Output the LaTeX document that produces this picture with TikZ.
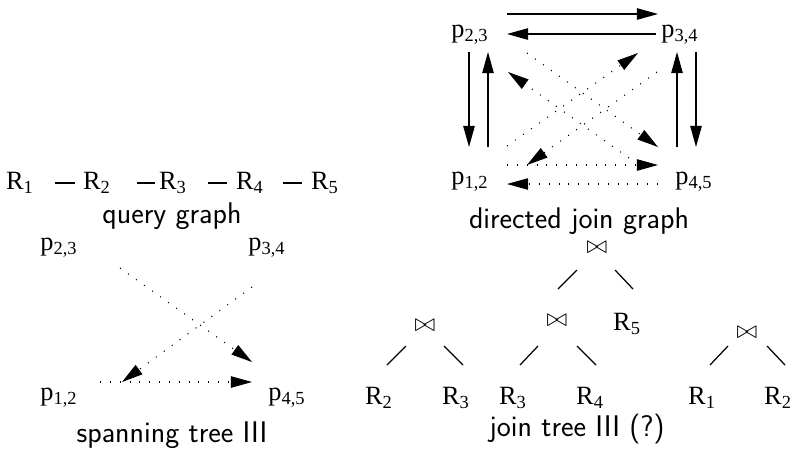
\documentclass[tikz,border=0pt]{standalone}
\usepackage{fontspec}
\usetikzlibrary{arrows.meta, calc}
\newfontfamily\lblfont{Liberation Serif}
\tikzset{
	lbl/.style={
		inner sep=1pt, font=\lblfont\fontsize{15}{17}\selectfont
	},
	captext/.style={
		inner sep=1pt, font=\sffamily\fontsize{17}{20}\selectfont
	},
	joinsym/.style={
		inner sep=1pt, font=\fontsize{15}{17}\selectfont
	},
	arrow/.style={
		-{Triangle[length=12pt, width=6.5pt]}, line width=0.7pt
	},
	dotarrow/.style={
		arrow, line width=0.6pt, dash pattern=on 0.6pt off 5pt
	},
	branch/.style={
		line width=0.7pt
	}
}
\begin{document}
\begin{tikzpicture}[x=0.02cm, y=-0.02cm]
		\useasboundingbox (0,0) rectangle (793,451);
		
		%% ═══════════════════════════════
		%%  QUERY GRAPH
		%% ═══════════════════════════════
		\node[lbl] (q1) at (20,183)  {R\textsubscript{1}};
		\node[lbl] (q2) at (97,183)  {R\textsubscript{2}};
		\node[lbl] (q3) at (173,183) {R\textsubscript{3}};
		\node[lbl] (q4) at (250,183) {R\textsubscript{4}};
		\node[lbl] (q5) at (325,183) {R\textsubscript{5}};
		\node[captext] (qcap) at (172,216) {query graph};
		
		\draw[branch] ($(q1)+(35,0)$) -- ($(q2)+(-22,0)$);
		\draw[branch] ($(q2)+(40,0)$) -- ($(q3)+(-18,0)$);
		\draw[branch] ($(q3)+(35,0)$) -- ($(q4)+(-23,0)$);
		\draw[branch] ($(q4)+(33,0)$) -- ($(q5)+(-23,0)$);
		
		%% ═══════════════════════════════
		%%  DIRECTED JOIN GRAPH
		%% ═══════════════════════════════
		\node[lbl] (g23) at (470,35)  {p\textsubscript{2,3}};
		\node[lbl] (g34) at (680,35)  {p\textsubscript{3,4}};
		\node[lbl] (g12) at (470,182) {p\textsubscript{1,2}};
		\node[lbl] (g45) at (694,182) {p\textsubscript{4,5}};
		\node[captext] (gcap) at (579,221) {directed join graph};
		
		% top and bottom pairs
		\draw[arrow] ($(g23)+(37,-21)$) -- ($(g34)+(-22,-21)$);
		\draw[arrow] ($(g34)+(-24,-1)$) -- ($(g23)+(37,-1)$);
		\draw[dotarrow] ($(g12)+(37,-17)$) -- ($(g45)+(-36,-17)$);
		\draw[dotarrow] ($(g45)+(-36,2)$) -- ($(g12)+(37,2)$);
		
		% left and right pairs
		\draw[arrow] ($(g23)+(-1,17)$) -- ($(g12)+(-1,-35)$);
		\draw[arrow] ($(g12)+(18,-35)$) -- ($(g23)+(18,17)$);
		\draw[arrow] ($(g45)+(-17,-35)$) -- ($(g34)+(-3,17)$);
		\draw[arrow] ($(g34)+(16,17)$) -- ($(g45)+(2,-35)$);
		
		% diagonals
		\draw[dotarrow] ($(g23)+(57,18)$) -- ($(g45)+(-36,-35)$);
		\draw[dotarrow] ($(g45)+(-65,-24)$) -- ($(g23)+(38,37)$);
		\draw[dotarrow] ($(g34)+(-23,37)$) -- ($(g12)+(57,-17)$);
		\draw[dotarrow] ($(g12)+(37,-36)$) -- ($(g34)+(-42,18)$);
		
		%% ═══════════════════════════════
		%%  SPANNING TREE
		%% ═══════════════════════════════
		\node[lbl] (s23) at (59,248)  {p\textsubscript{2,3}};
		\node[lbl] (s34) at (267,248) {p\textsubscript{3,4}};
		\node[lbl] (s12) at (59,398)  {p\textsubscript{1,2}};
		\node[lbl] (s45) at (287,398) {p\textsubscript{4,5}};
		\node[captext] (scap) at (172,435) {spanning tree III};
		
		\draw[dotarrow] ($(s23)+(61,20)$) -- ($(s45)+(-35,-36)$);
		\draw[dotarrow] ($(s34)+(-15,39)$) -- ($(s12)+(63,-16)$);
		\draw[dotarrow] ($(s12)+(41,-16)$) -- ($(s45)+(-35,-16)$);
		
		%% ═══════════════════════════════
		%%  JOIN TREES
		%% ═══════════════════════════════
		\node[joinsym] (jt) at (597,248) {$\bowtie$};
		\node[joinsym] (jm) at (557,321) {$\bowtie$};
		\node[lbl]     (r5) at (627,324) {R\textsubscript{5}};
		\node[lbl]     (m3) at (513,398) {R\textsubscript{3}};
		\node[lbl]     (m4) at (590,398) {R\textsubscript{4}};
		
		\node[joinsym] (jl) at (425,326) {$\bowtie$};
		\node[lbl]     (l2) at (379,398) {R\textsubscript{2}};
		\node[lbl]     (l3) at (456,398) {R\textsubscript{3}};
		
		\node[joinsym] (jr) at (747,333) {$\bowtie$};
		\node[lbl]     (k1) at (702,398) {R\textsubscript{1}};
		\node[lbl]     (k2) at (778,398) {R\textsubscript{2}};
		
		\node[captext] (jcap) at (577,429) {join tree III (?)};
		
		\draw[branch] ($(jt)+(-20,22)$) -- ($(jm)+(1,-32)$);
		\draw[branch] ($(jt)+(18,22)$)  -- ($(r5)+(6,-35)$);
		\draw[branch] ($(jm)+(-19,25)$) -- ($(m3)+(7,-33)$);
		\draw[branch] ($(jm)+(20,25)$)  -- ($(m4)+(6,-33)$);
		\draw[branch] ($(jl)+(-19,20)$) -- ($(l2)+(8,-33)$);
		\draw[branch] ($(jl)+(19,20)$)  -- ($(l3)+(7,-33)$);
		\draw[branch] ($(jr)+(-19,13)$) -- ($(k1)+(8,-33)$);
		\draw[branch] ($(jr)+(20,13)$)  -- ($(k2)+(7,-33)$);
	\end{tikzpicture}
\end{document}
